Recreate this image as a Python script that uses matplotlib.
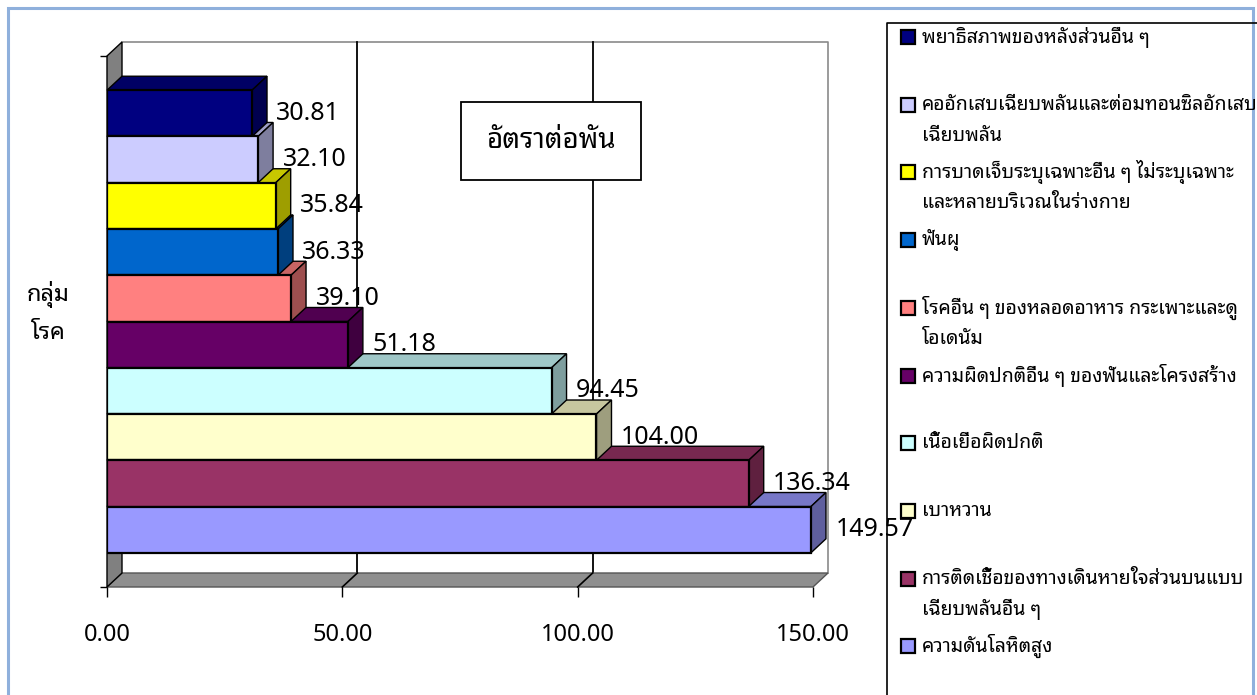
import matplotlib
matplotlib.use('Agg')
import matplotlib.pyplot as plt
import matplotlib.colors as mcolors
from matplotlib import font_manager
from matplotlib.ft2font import FT2Font
from matplotlib.patches import Polygon, Rectangle
from matplotlib.lines import Line2D

# ข้อมูล: เรียงจากบนลงล่างตามกราฟ
categories = [
    'พยาธิสภาพของหลังส่วนอื่น ๆ',
    'คออักเสบเฉียบพลันและต่อมทอนซิลอักเสบ\nเฉียบพลัน',
    'การบาดเจ็บระบุเฉพาะอื่น ๆ ไม่ระบุเฉพาะ\nและหลายบริเวณในร่างกาย',
    'ฟันผุ',
    'โรคอื่น ๆ ของหลอดอาหาร กระเพาะและดู\nโอเดนัม',
    'ความผิดปกติอื่น ๆ ของฟันและโครงสร้าง',
    'เนื้อเยื่อผิดปกติ',
    'เบาหวาน',
    'การติดเชื้อของทางเดินหายใจส่วนบนแบบ\nเฉียบพลันอื่น ๆ',
    'ความดันโลหิตสูง',
]
values = [30.81, 32.10, 35.84, 36.33, 39.10, 51.18, 94.45, 104.00, 136.34, 149.57]
colors = ['#000080', '#CCCCFF', '#FFFF00', '#0066CC', '#FF8080',
          '#660066', '#CCFFFF', '#FFFFCC', '#993366', '#9999FF']
x_ticks = [0, 50, 100, 150]
title_text = 'อัตราต่อพัน'
ylabel_text = 'กลุ่ม\nโรค'


# หาฟอนต์ที่มีอักษรไทย
def thai_fonts():
    names = []
    for f in font_manager.fontManager.ttflist:
        try:
            if 0x0E01 in FT2Font(f.fname).get_charmap():
                names.append(f.name)
        except Exception:
            pass
    return sorted(set(names))


found = thai_fonts()
prefer = ['Tahoma', 'Leelawadee UI', 'Noto Sans Thai Looped', 'IBM Plex Sans Thai Looped',
          'Sarabun', 'Noto Sans Thai', 'Loma', 'Garuda']
thai = next((p for p in prefer if p in found), found[0] if found else None)
family = ([thai] if thai else []) + ['DejaVu Sans']
plt.rcParams['font.family'] = family

W, H = 1257, 695
fig = plt.figure(figsize=(W / 100, H / 100), dpi=100)


def fx(x):
    return x / W


def fy(y):
    return 1 - y / H


# กรอบนอก
fig.patches.append(Rectangle((fx(8), fy(700)), fx(1245) - fx(0), fy(8) - fy(700),
                             transform=fig.transFigure, fill=False,
                             edgecolor='#8fb0dc', lw=2.2))

# แกนหลัก
x0, x1, ytop, ybot = 107, 813, 56, 587
ax = fig.add_axes([fx(x0), fy(ybot), fx(x1) - fx(x0), fy(ytop) - fy(ybot)])
n = len(values)
pad = 1.24
xmax = x_ticks[-1]
ax.set_xlim(0, xmax)
ax.set_ylim(-pad, n - 1 + pad)
for s in ax.spines.values():
    s.set_visible(False)
ax.patch.set_visible(False)

dx = 15 / ((x1 - x0) / xmax)
dy = 14 / ((ybot - ytop) / (n - 1 + 2 * pad))
ytopw = n - 1 + pad

# ผนังหลัง
ax.add_patch(Rectangle((dx, -pad + dy), xmax, ytopw + pad, facecolor='white',
                       edgecolor='none', zorder=0, clip_on=False))
ax.add_line(Line2D([dx, xmax + dx, xmax + dx], [ytopw + dy, ytopw + dy, -pad + dy],
                   color='#8a8a8a', lw=1.2, zorder=0.5, clip_on=False))
for t in x_ticks[1:-1]:
    ax.add_line(Line2D([t + dx, t + dx], [-pad + dy, ytopw + dy], color='black',
                       lw=1.3, zorder=0.5, clip_on=False))

# พื้น
ax.add_patch(Polygon([(0, -pad), (xmax, -pad), (xmax + dx, -pad + dy), (dx, -pad + dy)],
                     facecolor='#8f8f8f', edgecolor='#555555', lw=1, zorder=1,
                     clip_on=False))
for t in x_ticks[1:-1]:
    ax.add_line(Line2D([t, t + dx], [-pad, -pad + dy], color='black', lw=1.2,
                       zorder=1.1, clip_on=False))

# ผนังซ้าย
ax.add_patch(Polygon([(0, -pad), (dx, -pad + dy), (dx, ytopw + dy), (0, ytopw)],
                     facecolor='#808080', edgecolor='black', lw=1, zorder=1,
                     clip_on=False))

# แท่งกราฟแบบสามมิติ
ypos = [n - 1 - i for i in range(n)]
h = 1.0
for y, v, c in zip(ypos, values, colors):
    rgb = mcolors.to_rgb(c)
    top_c = tuple(0.78 * a for a in rgb)
    side_c = tuple(0.62 * a for a in rgb)
    ax.add_patch(Polygon([(0, y + h / 2), (v, y + h / 2), (v + dx, y + h / 2 + dy),
                          (dx, y + h / 2 + dy)], facecolor=top_c, edgecolor='black',
                         lw=1, zorder=2, clip_on=False))
    ax.add_patch(Polygon([(v, y - h / 2), (v + dx, y - h / 2 + dy), (v + dx, y + h / 2 + dy),
                          (v, y + h / 2)], facecolor=side_c, edgecolor='black',
                         lw=1, zorder=2.5, clip_on=False))
ax.barh(ypos, values, height=h, color=colors, edgecolor='black', lw=1.6, zorder=3)

for y, v in zip(ypos, values):
    ax.text(v + dx + 2.0, y, f'{v:.2f}', va='center', ha='left', fontsize=18,
            zorder=5)

ax.set_xticks(x_ticks)
ax.set_xticklabels([f'{t:.2f}' for t in x_ticks], fontsize=17)
ax.tick_params(axis='x', length=7, width=1, pad=19, colors='black')
ax.set_yticks([-pad, ytopw])
ax.set_yticklabels(['', ''])
ax.tick_params(axis='y', length=5, width=1)

# กล่องชื่อ
fig.text(fx(551), fy(141), title_text, ha='center', va='center', fontsize=20,
         bbox=dict(boxstyle='square,pad=0.9', facecolor='white', edgecolor='black',
                   lw=1.3), zorder=10)

# ชื่อแกน y
fig.text(fx(48), fy(313), ylabel_text, ha='center', va='center', fontsize=17,
         fontweight='bold', linespacing=1.7)

# คำอธิบายสัญลักษณ์
fig.lines.append(Line2D([fx(887), fx(887), fx(1260)], [fy(700), fy(23), fy(23)],
                        transform=fig.transFigure, color='black', lw=1.2))
step = 67.7
line_gap = 31
for i, (lab, c) in enumerate(zip(categories, colors)):
    yy = 37 + i * step
    fig.patches.append(Rectangle((fx(901), fy(yy + 7)), fx(14), fy(0) - fy(14),
                                 transform=fig.transFigure, facecolor=c,
                                 edgecolor='black', lw=1.6))
    for j, part in enumerate(lab.split('\n')):
        fig.text(fx(922), fy(yy + j * line_gap), part, ha='left', va='center',
                 fontsize=14, fontweight='bold')

fig.savefig('out.png', dpi=100)
